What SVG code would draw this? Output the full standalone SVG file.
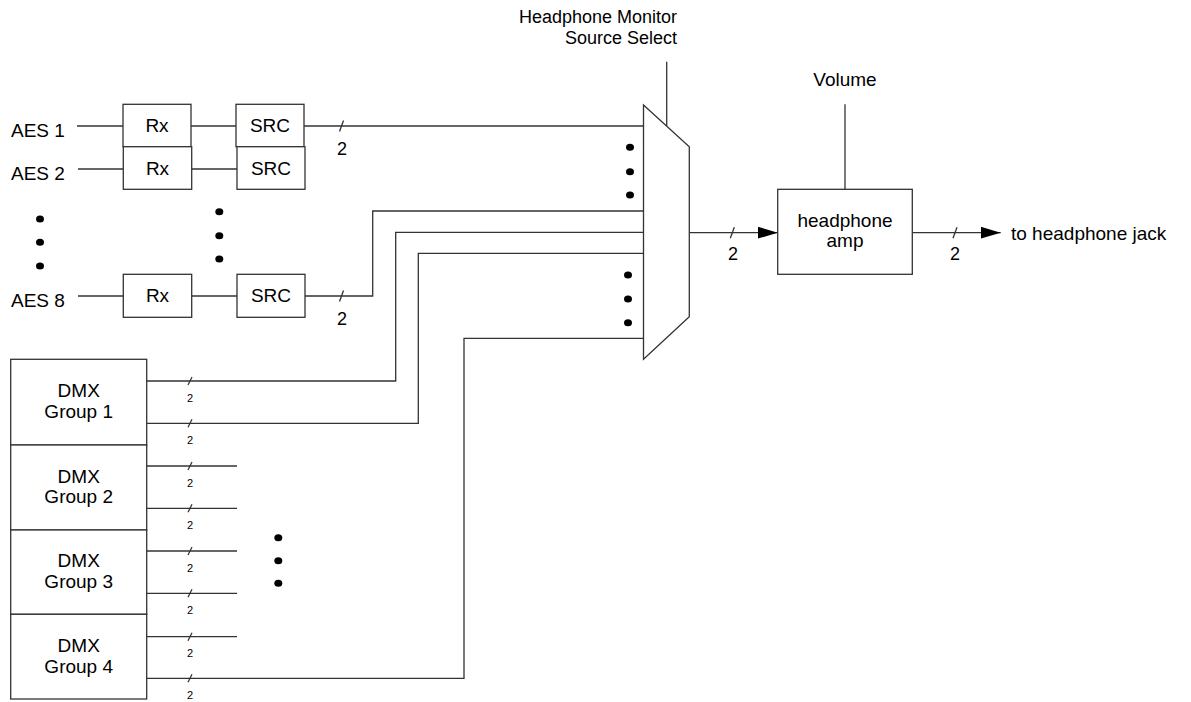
<svg xmlns="http://www.w3.org/2000/svg" width="1191" height="702" viewBox="0 0 1191 702">
<style>
text{font-family:"Liberation Sans",Arial,sans-serif;fill:#000;font-size:19px}
.m{text-anchor:middle}
.e{text-anchor:end}
.h{font-size:18px}
.s{font-size:11px}
.box{fill:#fff;stroke:#333;stroke-width:1.3}
.w{fill:none;stroke:#333;stroke-width:1.3}
.dot{fill:#000}
</style>
<defs>
<marker id="arr" markerWidth="20" markerHeight="12" refX="20" refY="6" orient="auto" markerUnits="userSpaceOnUse">
<path d="M0,0 L20,6 L0,12 Z" fill="#000"/>
</marker>
</defs>
<rect width="1191" height="702" fill="#fff"/>

<g id="connectors">
<line class="w" x1="77" y1="126" x2="123" y2="126"/>
<line class="w" x1="191" y1="126" x2="236" y2="126"/>
<line class="w" x1="304" y1="126" x2="644" y2="126"/>
<line class="w" x1="339.5" y1="131.5" x2="343.5" y2="120.5"/>
<text x="342" y="155" class="m h">2</text>

<line class="w" x1="78" y1="169" x2="123" y2="169"/>
<line class="w" x1="191" y1="169" x2="237" y2="169"/>

<line class="w" x1="78" y1="296" x2="123" y2="296"/>
<line class="w" x1="192" y1="296" x2="237" y2="296"/>
<polyline class="w" points="305,296 372.7,296 372.7,211 644,211"/>
<line class="w" x1="339.5" y1="301.5" x2="343.5" y2="290.5"/>
<text x="342" y="325" class="m h">2</text>

<polyline class="w" points="146.7,381 395.7,381 395.7,232.3 644,232.3"/>
<polyline class="w" points="146.7,423.3 418.3,423.3 418.3,253.3 644,253.3"/>
<polyline class="w" points="146.7,678.3 464,678.3 464,338.3 644,338.3"/>
<line class="w" x1="146.7" y1="466" x2="237" y2="466"/>
<line class="w" x1="146.7" y1="508.3" x2="237" y2="508.3"/>
<line class="w" x1="146.7" y1="551" x2="237" y2="551"/>
<line class="w" x1="146.7" y1="593.3" x2="237" y2="593.3"/>
<line class="w" x1="146.7" y1="636.7" x2="237" y2="636.7"/>

<g class="w">
<line x1="188" y1="385" x2="192" y2="377"/>
<line x1="188" y1="427.3" x2="192" y2="419.3"/>
<line x1="188" y1="470" x2="192" y2="462"/>
<line x1="188" y1="512.3" x2="192" y2="504.3"/>
<line x1="188" y1="555" x2="192" y2="547"/>
<line x1="188" y1="597.3" x2="192" y2="589.3"/>
<line x1="188" y1="640.7" x2="192" y2="632.7"/>
<line x1="188" y1="682.3" x2="192" y2="674.3"/>
</g>
<text x="190" y="401.5" class="m s">2</text>
<text x="190" y="443.8" class="m s">2</text>
<text x="190" y="486.5" class="m s">2</text>
<text x="190" y="528.8" class="m s">2</text>
<text x="190" y="571.5" class="m s">2</text>
<text x="190" y="613.8" class="m s">2</text>
<text x="190" y="657.2" class="m s">2</text>
<text x="190" y="698.8" class="m s">2</text>

<line class="w" x1="666.7" y1="61.7" x2="666.7" y2="126"/>
<line class="w" x1="689.3" y1="232.7" x2="777.7" y2="232.7" marker-end="url(#arr)"/>
<line class="w" x1="730.3" y1="238.2" x2="734.3" y2="227.2"/>
<text x="733" y="260" class="m h">2</text>
<line class="w" x1="845" y1="104.3" x2="845" y2="189.3"/>
<line class="w" x1="912.3" y1="232.7" x2="1000.7" y2="232.7" marker-end="url(#arr)"/>
<line class="w" x1="953" y1="238.2" x2="957" y2="227.2"/>
<text x="955" y="260" class="m h">2</text>
</g>

<g id="labels">
<text x="11" y="136.5">AES 1</text>
<text x="11" y="179.5">AES 2</text>
<text x="11" y="306.5">AES 8</text>
<text x="677" y="22.7" class="e h">Headphone Monitor</text>
<text x="677" y="44.3" class="e h">Source Select</text>
<text x="845" y="86" class="m">Volume</text>
<text x="1011" y="240">to headphone jack</text>
</g>

<g id="dots" class="dot">
<ellipse cx="40" cy="219" rx="4" ry="3.5"/>
<ellipse cx="40" cy="242.3" rx="4" ry="3.5"/>
<ellipse cx="40" cy="266" rx="4" ry="3.5"/>
<ellipse cx="219.3" cy="211.7" rx="4" ry="3.5"/>
<ellipse cx="219.3" cy="235.7" rx="4" ry="3.5"/>
<ellipse cx="219.3" cy="259" rx="4" ry="3.5"/>
<ellipse cx="630" cy="147.3" rx="4" ry="3.5"/>
<ellipse cx="630" cy="171.7" rx="4" ry="3.5"/>
<ellipse cx="630" cy="195" rx="4" ry="3.5"/>
<ellipse cx="628" cy="275" rx="4" ry="3.5"/>
<ellipse cx="628" cy="299" rx="4" ry="3.5"/>
<ellipse cx="628" cy="322.7" rx="4" ry="3.5"/>
<ellipse cx="278.3" cy="537.7" rx="4" ry="3.5"/>
<ellipse cx="278.3" cy="560.7" rx="4" ry="3.5"/>
<ellipse cx="278.3" cy="583.3" rx="4" ry="3.5"/>
</g>

<g id="rx1"><rect class="box" x="123" y="104.3" width="68" height="42.4"/><text x="157" y="132" class="m">Rx</text></g>
<g id="src1"><rect class="box" x="236" y="104.3" width="68" height="42.4"/><text x="270" y="132" class="m">SRC</text></g>
<g id="rx2"><rect class="box" x="123.3" y="146.7" width="68.4" height="42.6"/><text x="157.5" y="174.5" class="m">Rx</text></g>
<g id="src2"><rect class="box" x="237" y="146.7" width="68" height="42.6"/><text x="271" y="174.5" class="m">SRC</text></g>
<g id="rx8"><rect class="box" x="123.3" y="274.3" width="68.4" height="43"/><text x="157.5" y="302" class="m">Rx</text></g>
<g id="src8"><rect class="box" x="237" y="274.3" width="68" height="43"/><text x="271" y="302" class="m">SRC</text></g>

<g id="dmx1"><rect class="box" x="10.7" y="359.3" width="136" height="85.7"/><text x="78.7" y="397.3" class="m">DMX</text><text x="78.7" y="418" class="m">Group 1</text></g>
<g id="dmx2"><rect class="box" x="10.7" y="445" width="136" height="85"/><text x="78.7" y="482.5" class="m">DMX</text><text x="78.7" y="503.2" class="m">Group 2</text></g>
<g id="dmx3"><rect class="box" x="10.7" y="530" width="136" height="84.3"/><text x="78.7" y="567" class="m">DMX</text><text x="78.7" y="587.7" class="m">Group 3</text></g>
<g id="dmx4"><rect class="box" x="10.7" y="614.3" width="136" height="84.7"/><text x="78.7" y="652" class="m">DMX</text><text x="78.7" y="672.7" class="m">Group 4</text></g>

<g id="mux"><polygon class="box" points="643.5,105 689.3,146.7 689.3,316.7 643.5,359.3"/></g>
<g id="amp"><rect class="box" x="777.7" y="189.3" width="134.6" height="85"/><text x="845" y="226.7" class="m">headphone</text><text x="845" y="247" class="m">amp</text></g>
</svg>
